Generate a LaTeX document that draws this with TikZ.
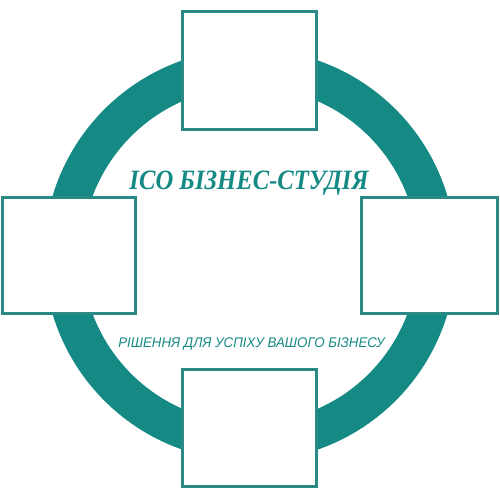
\documentclass[tikz,border=0pt]{standalone}
\usepackage{fontspec}
\setmainfont{Liberation Serif}
\newfontfamily\subfont{Liberation Sans}
\definecolor{teal1}{HTML}{158A85}
\definecolor{tealb}{HTML}{2A8A85}
\begin{document}
\begin{tikzpicture}[x=1pt,y=-1pt,
  card/.style={draw=tealb,line width=3pt,fill=white,inner sep=0pt}]
\useasboundingbox (0,0) rectangle (500,500);
\fill[white] (0,0) rectangle (500,500);
\coordinate (c) at (250,255);
\draw[teal1,line width=38pt] (c) circle[radius=187];
\node[card,minimum width=134pt,minimum height=118pt] (top) at (249.5,70.5) {};
\node[card,minimum width=133pt,minimum height=116pt] (left) at (69,255) {};
\node[card,minimum width=136pt,minimum height=116pt] (right) at (429,255) {};
\node[card,minimum width=134pt,minimum height=117pt] (bottom) at (249.5,428) {};
\node[text=teal1,inner sep=0pt,anchor=base] (title) at (249,189)
  {\scalebox{0.88}[1]{\fontsize{28}{28}\selectfont\bfseries\itshape ICO БІЗНЕС-СТУДІЯ}};
\node[text=teal1,inner sep=0pt,anchor=base] (sub) at (251.5,347)
  {\scalebox{0.95}[1]{\fontsize{14}{14}\selectfont\subfont\itshape РІШЕННЯ ДЛЯ УСПІХУ ВАШОГО БІЗНЕСУ}};
\end{tikzpicture}
\end{document}
